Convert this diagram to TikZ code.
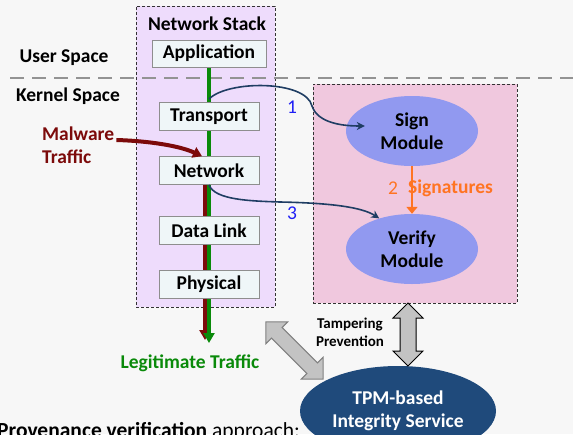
\documentclass[tikz,border=0pt]{standalone}
\usepackage{fontspec}
\setmainfont{Carlito}
\usetikzlibrary{shapes.geometric, shapes.arrows, arrows.meta, positioning, calc, backgrounds}
\definecolor{pagebg}{HTML}{F7F7F7}
\definecolor{stackfill}{HTML}{EEDCFC}
\definecolor{secfill}{HTML}{F0C8DE}
\definecolor{boxfill}{HTML}{EFF6F8}
\definecolor{boxline}{HTML}{8E8E8E}
\definecolor{modfill}{HTML}{9199F0}
\definecolor{tpmblue}{HTML}{1F4A7B}
\definecolor{flowblue}{HTML}{1F3D63}
\definecolor{numblue}{HTML}{1F1FF5}
\definecolor{malred}{HTML}{7C0A0A}
\definecolor{legitgreen}{HTML}{0A8A0A}
\definecolor{sigorange}{HTML}{FF7422}
\definecolor{arrowgray}{HTML}{C3C3C3}
\tikzset{every node/.append style={align=center, inner sep=2pt,
  font=\bfseries\fontsize{19.5}{23}\selectfont}}

\begin{document}
\begin{tikzpicture}[
    x=1pt, y=-1pt,
    layer/.style={rectangle, draw=boxline, fill=boxfill, line width=0.8pt,
        minimum width=100pt, minimum height=28pt},
    region/.style={rectangle, draw=black!80, line width=0.8pt,
        dash pattern=on 3pt off 2pt},
    module/.style={ellipse, fill=modfill, inner sep=0pt,
        minimum width=132pt, minimum height=70pt},
    flow/.style={-{Stealth[length=8pt, width=8pt]}, line width=1.6pt, flowblue},
    traffic/.style={-{Triangle[length=10pt, width=11pt]}, line width=4pt},
    numlabel/.style={font=\mdseries\fontsize{19.5}{23}\selectfont, text=numblue},
    bigarrow/.style={double arrow, double arrow head extend=7pt, inner sep=7.5pt,
        minimum width=0pt, fill=arrowgray, line width=1pt}
]
\useasboundingbox (0,0) rectangle (573,434);

% network stack layers
\node[layer, minimum width=114pt, minimum height=27pt] (app) at (209,53.5) {Application};
\node[layer, below=35pt of app] (trans) {Transport};
\node[layer, below=25pt of trans] (net) {Network};
\node[layer, below=31pt of net] (link) {Data Link};
\node[layer, below=25pt of link] (phys) {Physical};
\node (stacktitle) at (207,24) {Network Stack};

\begin{scope}[on background layer]
  \fill[pagebg] (0,0) rectangle (573,434);
  \node[region, fill=stackfill, minimum width=139pt, minimum height=301pt] (stack) at (205.5,156.5) {};
  \draw[gray!85, line width=2pt, dash pattern=on 14pt off 8pt] (10,78) -- (573,78);
  % traffic through the stack
  \coordinate (redend) at (205,340);
  \coordinate (greenend) at (209,343);
  \draw[traffic, malred] (net.north -| redend) -- (redend);
  \draw[traffic, legitgreen] (app.south) -- (greenend);
\end{scope}

\node (user) at (64,58) {User Space};
\node (kernel) at (68,96) {Kernel Space};
\node[text=legitgreen] (legit) at (190,363) {Legitimate Traffic};
\node[text=malred, align=left, anchor=west] (malware) at (40,145) {Malware\\Traffic};
\draw[traffic, malred, -{Triangle[length=9pt, width=11pt]}]
    ([yshift=5pt]malware.east) .. controls (150,141) and (180,146) .. ([xshift=-7pt]net.north);

% signing side
\node[region, fill=secfill, minimum width=204pt, minimum height=219pt] (secbox) at (415,193.5) {};
\node[module] (sign) at (412,131) {Sign\\Module};
\node[module] (verify) at (412,249) {Verify\\Module};
\draw[-{Triangle[length=7pt, width=11pt]}, line width=2pt, sigorange] (sign) -- (verify);
\node[text=sigorange, font=\mdseries\fontsize{19.5}{23}\selectfont] (two) at (393,188) {2};
\node[text=sigorange, anchor=west] (sig) at (406,188) {Signatures};

\coordinate (tap) at (209,99);
\draw[flow] (tap) .. controls (228,80) and (306,80) .. (312,106)
    .. controls (318,124) and (345,126) .. ([xshift=19pt, yshift=5pt]sign.west);
\draw[flow] (net.south) .. controls (215,200) and (250,201) .. (280,202)
    .. controls (330,203) and (362,207) .. (verify.137);
\node[numlabel] (one) at (292,107) {1};
\node[numlabel] (three) at (292,213) {3};

% integrity service
\node[ellipse, fill=tpmblue, text=white, inner sep=0pt, minimum width=196pt,
    minimum height=90pt] (tpm) at (398,411) {TPM-based\\Integrity Service};
\node[bigarrow, draw=black, minimum height=63pt, rotate=90] (guard) at (408,334.5) {};
\node[bigarrow, draw=gray, double arrow head extend=8pt, inner sep=7pt,
    minimum height=81pt, rotate=-45] (link2tpm) at (294.5,350.5) {};
\node[font=\bfseries\fontsize{15}{18}\selectfont] (tamper) at (350,332) {Tampering\\Prevention};

\node[anchor=base west, font=\fontsize{21.5}{24}\selectfont] (approach) at (-5,437)
    {\textbf{Provenance verification} approach:};
\end{tikzpicture}
\end{document}
